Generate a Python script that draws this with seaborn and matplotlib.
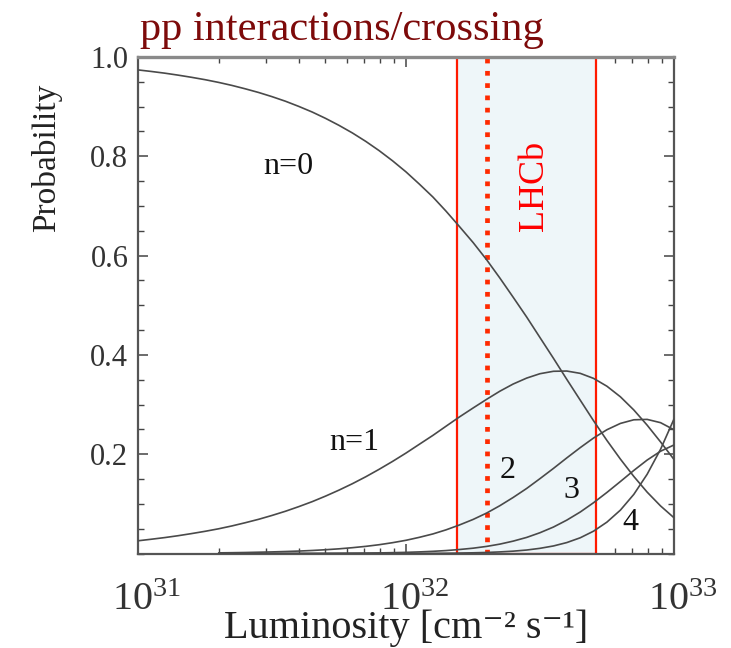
import numpy as np
import pandas as pd
import matplotlib
matplotlib.use("Agg")
import matplotlib.pyplot as plt
from matplotlib.ticker import FixedLocator, NullFormatter, FixedFormatter, MultipleLocator
from matplotlib.transforms import blended_transform_factory, ScaledTranslation
import seaborn as sns

# Luminosity sample points, in units of 1e31 cm^-2 s^-1 (20 per decade)
lum = [1.00, 1.12, 1.26, 1.41, 1.58, 1.78, 2.00, 2.24, 2.51, 2.82,
       3.16, 3.55, 3.98, 4.47, 5.01, 5.62, 6.31, 7.08, 7.94, 8.91,
       10.0, 11.2, 12.6, 14.1, 15.8, 17.8, 20.0, 22.4, 25.1, 28.2,
       31.6, 35.5, 39.8, 44.7, 50.1, 56.2, 63.1, 70.8, 79.4, 89.1, 100.0]

# Probability of n pp interactions per bunch crossing
p_n0 = [0.9740, 0.9709, 0.9674, 0.9635, 0.9592, 0.9543, 0.9488, 0.9428, 0.9360, 0.9285,
        0.9202, 0.9109, 0.9005, 0.8891, 0.8764, 0.8624, 0.8470, 0.8300, 0.8114, 0.7909,
        0.7686, 0.7443, 0.7180, 0.6896, 0.6590, 0.6263, 0.5915, 0.5548, 0.5163, 0.4763,
        0.4351, 0.3931, 0.3508, 0.3087, 0.2674, 0.2277, 0.1901, 0.1552, 0.1236, 0.0958, 0.0720]
p_n1 = [0.0256, 0.0287, 0.0321, 0.0358, 0.0400, 0.0447, 0.0498, 0.0555, 0.0619, 0.0689,
        0.0766, 0.0851, 0.0944, 0.1045, 0.1156, 0.1276, 0.1406, 0.1546, 0.1696, 0.1855,
        0.2023, 0.2198, 0.2379, 0.2563, 0.2748, 0.2931, 0.3106, 0.3269, 0.3413, 0.3533,
        0.3621, 0.3670, 0.3675, 0.3628, 0.3527, 0.3369, 0.3156, 0.2891, 0.2585, 0.2247, 0.1894]

# Higher multiplicities are drawn from 2e31 upwards
lum_hi = lum[6:]
p_n2 = [0.0013, 0.0016, 0.0020, 0.0026,
        0.0032, 0.0040, 0.0049, 0.0061, 0.0076, 0.0094, 0.0117, 0.0144, 0.0177, 0.0218,
        0.0266, 0.0325, 0.0394, 0.0476, 0.0573, 0.0686, 0.0815, 0.0963, 0.1128, 0.1310,
        0.1507, 0.1714, 0.1925, 0.2133, 0.2326, 0.2493, 0.2620, 0.2693, 0.2701, 0.2635, 0.2492]
p_n3 = [0.0000, 0.0000, 0.0000, 0.0001,
        0.0001, 0.0001, 0.0002, 0.0002, 0.0003, 0.0005, 0.0007, 0.0009, 0.0012, 0.0017,
        0.0023, 0.0032, 0.0044, 0.0059, 0.0080, 0.0107, 0.0143, 0.0189, 0.0249, 0.0324,
        0.0418, 0.0533, 0.0672, 0.0836, 0.1023, 0.1230, 0.1450, 0.1673, 0.1882, 0.2060, 0.2186]
p_n4 = [0.0000, 0.0000, 0.0000, 0.0000,
        0.0000, 0.0000, 0.0000, 0.0000, 0.0000, 0.0000, 0.0000, 0.0000, 0.0001, 0.0001,
        0.0002, 0.0003, 0.0004, 0.0006, 0.0009, 0.0014, 0.0021, 0.0032, 0.0047, 0.0070,
        0.0104, 0.0152, 0.0220, 0.0317, 0.0450, 0.0632, 0.0874, 0.1191, 0.1596, 0.2099, 0.2709]

curve_labels = ["n=0", "n=1", "2", "3", "4"]

# LHCb operating range and nominal luminosity
lhcb_lo, lhcb_hi = 1.55e32, 5.1e32
lhcb_nominal = 2e32

x_ticks = [1e31, 1e32, 1e33]
x_tick_labels = [r"$\mathregular{10^{31}}$", r"$\mathregular{10^{32}}$", r"$\mathregular{10^{33}}$"]
y_ticks = [0.2, 0.4, 0.6, 0.8, 1.0]
y_tick_labels = ["0.2", "0.4", "0.6", "0.8", "1.0"]

sns.set_theme(style="ticks")
plt.rcParams["font.family"] = ["Liberation Serif", "DejaVu Serif"]
plt.rcParams["mathtext.fontset"] = "custom"
plt.rcParams["mathtext.rm"] = "Liberation Serif"
plt.rcParams["mathtext.it"] = "Liberation Serif:italic"

frames = []
for label, xs, ys in zip(curve_labels,
                         [lum, lum, lum_hi, lum_hi, lum_hi],
                         [p_n0, p_n1, p_n2, p_n3, p_n4]):
    frames.append(pd.DataFrame({"lum": np.array(xs) * 1e31, "prob": ys, "n": label}))
df = pd.concat(frames, ignore_index=True)

W, H = 731, 648
fig = plt.figure(figsize=(W / 100, H / 100), dpi=100)
ax = fig.add_axes([138 / W, 1 - 553.5 / H, (674 - 138) / W, (553.5 - 57) / H])

ax.set_xscale("log")
ax.set_xlim(1e31, 1e33)
ax.set_ylim(0, 1)

# LHCb band and nominal luminosity marker
ax.axvspan(lhcb_lo, lhcb_hi, facecolor="#eef6f9", edgecolor="#ff1a00", linewidth=1.6, zorder=1)
ax.plot([lhcb_nominal, lhcb_nominal], [0, 1], color="#ff2a00", linewidth=3.4,
        linestyle=(0, (1.0, 1.6)), dash_capstyle="butt", zorder=2)

sns.lineplot(data=df, x="lum", y="prob", units="n", estimator=None,
             color="#4a4a4a", linewidth=1.2, ax=ax, zorder=3, legend=False)

ax.set_xlabel("")
ax.set_ylabel("")

ax.xaxis.set_major_locator(FixedLocator(x_ticks))
ax.xaxis.set_major_formatter(NullFormatter())
minor_x = [m * 10.0 ** e for e in (31, 32) for m in range(2, 10)]
ax.xaxis.set_minor_locator(FixedLocator(minor_x))
ax.xaxis.set_minor_formatter(NullFormatter())

ax.yaxis.set_major_locator(FixedLocator(y_ticks))
ax.yaxis.set_major_formatter(FixedFormatter(y_tick_labels))
ax.yaxis.set_minor_locator(MultipleLocator(0.05))

ax.tick_params(which="both", direction="in", top=True, right=True, color="#444444")
ax.tick_params(which="major", length=7.5, width=1.1)
ax.tick_params(which="minor", length=4, width=1.0)
ax.tick_params(axis="y", which="major", labelsize=22, labelcolor="#333333", pad=7)

# Decade labels: the mantissa "10" sits roughly centred on its tick
xlab_tf = blended_transform_factory(ax.transData, ax.transAxes) + \
    ScaledTranslation(9 / 100, 0, fig.dpi_scale_trans)
for xv, txt in zip(x_ticks, x_tick_labels):
    ax.text(xv, -0.094, txt, transform=xlab_tf, ha="center", va="center",
            fontsize=29, color="#333333", clip_on=False)

for side in ["left", "right", "bottom"]:
    ax.spines[side].set_color("#555555")
    ax.spines[side].set_linewidth(1.6)
ax.spines["top"].set_color("#8a8a8a")
ax.spines["top"].set_linewidth(2.4)

def fx(px):
    return px / W

def fy(py):
    return 1 - py / H

# Curve annotations
label_pos = {"n=0": (288, 167), "n=1": (354, 443), "2": (508, 471), "3": (571, 491), "4": (630, 522)}
for label, (px, py) in label_pos.items():
    fig.text(fx(px), fy(py), label, ha="center", va="center", fontsize=23, color="#111111")

fig.text(fx(534), fy(186), "LHCb", rotation=90, ha="center", va="center",
         fontsize=26, color="#ff0000")

fig.text(fx(140), fy(40), "pp interactions/crossing", ha="left", va="baseline",
         fontsize=30.5, color="#7d0a0a")
fig.text(fx(47), fy(158), "Probability", rotation=90, ha="center", va="center",
         fontsize=24, color="#222222")
fig.text(fx(406), fy(638), "Luminosity [cm\u207b\u00b2 s\u207b\u00b9]", ha="center", va="baseline",
         fontsize=29, color="#222222")

fig.savefig("out.png", dpi=100)
